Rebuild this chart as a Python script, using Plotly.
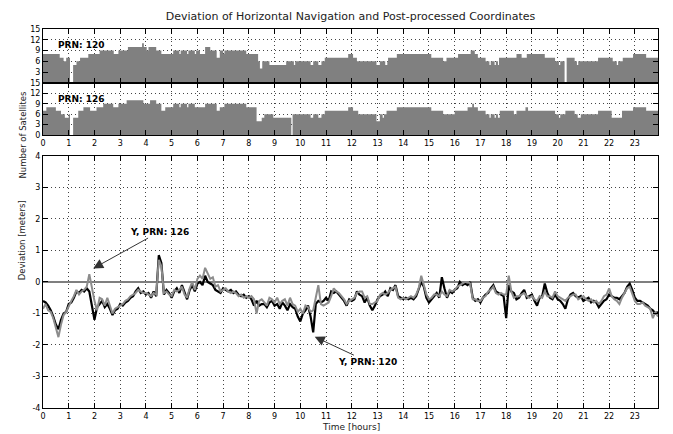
import plotly.graph_objects as go

# number of satellites, step series (start hour, count)
sat_hours_120 = [0.0, 0.65, 0.8, 0.9, 1.05, 1.17, 1.3, 1.44, 1.76, 2.2, 2.75, 2.93, 3.3, 3.85, 3.92,
                 4.03, 4.1, 4.4, 4.6, 5.06, 5.3, 5.35, 5.6, 5.65, 5.9, 5.95, 6.1, 6.3, 6.5, 6.75,
                 6.87, 7.0, 7.05, 7.9, 8.36, 8.43, 8.52, 8.8, 9.45, 9.75, 9.8, 10.4, 10.5, 10.7,
                 10.82, 10.95, 11.86, 12.05, 12.2, 12.96, 13.09, 13.3, 13.38, 13.41, 13.75, 15.09,
                 15.55, 15.68, 16.13, 16.62, 16.78, 16.9, 17.2, 17.35, 17.4, 17.55, 17.6, 17.68,
                 17.72, 18.4, 18.6, 18.8, 19.5, 19.9, 20.05, 20.1, 20.27, 20.35, 20.66, 20.75,
                 20.8, 21.57, 22.14, 22.3, 22.35, 22.53, 22.93, 23.44, 23.9]
sat_count_120 = [8, 7, 6, 7, 0, 5, 6, 7, 8, 9, 8, 9, 10, 11, 10,
                 9, 10, 9, 8, 9, 8, 9, 8, 9, 8, 9, 8, 10, 9, 7,
                 9, 8, 9, 8, 6, 4, 6, 5, 6, 5, 6, 5, 6, 5,
                 6, 7, 8, 7, 6, 5, 6, 5, 6, 7, 8, 7,
                 6, 7, 8, 9, 8, 7, 6, 5, 6, 5, 6, 5,
                 7, 8, 7, 8, 7, 6, 5, 6, 0, 7, 6, 5,
                 6, 7, 6, 5, 6, 7, 8, 7, 7]

sat_hours_126 = [0.0, 0.13, 0.5, 0.7, 0.85, 1.0, 1.05, 1.17, 1.37, 1.57, 1.83, 2.08, 2.34, 2.73,
                 2.93, 3.25, 3.9, 4.16, 4.4, 4.6, 4.75, 5.06, 5.3, 5.35, 5.6, 5.65, 5.9, 6.3,
                 6.75, 6.87, 7.05, 7.9, 8.3, 8.5, 8.6, 8.95, 9.65, 9.7, 10.4, 10.5, 10.7, 10.82,
                 10.95, 11.86, 12.05, 12.25, 12.96, 13.09, 13.2, 13.25, 13.35, 13.75, 15.09,
                 15.55, 16.0, 16.5, 16.68, 16.75, 16.9, 17.2, 17.35, 17.4, 17.55, 17.6, 17.68,
                 17.75, 18.3, 18.4, 18.75, 18.85, 19.9, 20.05, 20.1, 20.3, 20.66, 20.78, 20.9,
                 21.57, 22.1, 22.5, 22.93, 23.44, 23.9]
sat_count_126 = [7, 8, 7, 6, 5, 6, 0, 5, 7, 8, 7, 8, 9, 8,
                 9, 10, 9, 10, 9, 7, 8, 9, 8, 9, 8, 9, 8, 9,
                 7, 8, 9, 8, 4, 5, 6, 5, 0, 6, 5, 6, 5, 6,
                 7, 8, 7, 6, 4, 6, 5, 6, 7, 8, 7,
                 6, 7, 8, 9, 8, 7, 6, 5, 6, 5, 6, 5,
                 7, 6, 7, 8, 7, 6, 5, 6, 7, 6, 5, 6,
                 7, 5, 7, 8, 7, 7]

# deviation [m], one value every 0.1 h from 0 to 23.9
dev_hours = [round(i * 0.1, 1) for i in range(240)]
dev_120 = [-0.60, -0.65, -0.75, -0.90, -1.10, -1.35, -1.50, -1.20, -1.00, -0.95,
           -0.70, -0.65, -0.50, -0.30, -0.35, -0.25, -0.30, -0.20, -0.30, -0.70,
           -1.20, -0.80, -0.70, -0.60, -0.80, -0.70, -0.85, -1.05, -0.90, -0.85,
           -0.70, -0.75, -0.65, -0.60, -0.50, -0.45, -0.30, -0.20, -0.35, -0.30,
           -0.40, -0.35, -0.50, -0.30, -0.45, 0.85, 0.60, -0.40, -0.25, -0.35,
           -0.50, -0.30, -0.20, -0.35, -0.10, -0.35, -0.55, -0.25, -0.10, -0.30,
           -0.05, 0.00, -0.10, 0.20, 0.00, -0.05, -0.10, -0.25, -0.30, -0.35,
           -0.20, -0.25, -0.30, -0.25, -0.35, -0.30, -0.40, -0.45, -0.40, -0.50,
           -0.45, -0.55, -0.75, -0.60, -0.75, -0.70, -0.70, -0.80, -0.65, -0.60,
           -0.75, -0.70, -0.85, -0.65, -0.75, -0.90, -0.70, -0.80, -0.85, -1.10,
           -1.25, -1.00, -0.90, -0.75, -1.10, -1.60, -0.70, -0.60, -0.65, -0.60,
           -0.50, -0.60, -0.30, -0.35, -0.30, -0.40, -0.50, -0.60, -0.75, -0.55,
           -0.60, -0.55, -0.30, -0.40, -0.45, -0.65, -0.50, -0.75, -0.90, -0.75,
           -0.55, -0.45, -0.40, -0.30, -0.45, -0.20, -0.25, -0.10, -0.45, -0.50,
           -0.55, -0.50, -0.55, -0.50, -0.55, -0.45, -0.25, 0.00, -0.15, -0.50,
           -0.65, -0.55, -0.45, -0.35, -0.50, 0.15, -0.20, -0.50, -0.30, -0.35,
           -0.25, -0.20, 0.00, -0.10, -0.05, -0.10, 0.00, -0.50, -0.60, -0.55,
           -0.65, -0.50, -0.40, -0.35, -0.20, -0.10, -0.30, -0.35, -0.40, -0.45,
           -1.15, -0.10, -0.30, -0.35, -0.55, -0.50, -0.35, -0.25, -0.50, -0.45,
           -0.40, -0.60, -0.75, -0.50, -0.45, -0.05, -0.35, -0.50, -0.55, -0.40,
           -0.55, -0.60, -0.70, -0.85, -0.55, -0.40, -0.35, -0.45, -0.50, -0.45,
           -0.60, -0.55, -0.50, -0.65, -0.60, -0.65, -0.80, -0.70, -0.60, -0.55,
           -0.40, -0.45, -0.50, -0.50, -0.55, -0.45, -0.35, -0.15, -0.05, -0.25,
           -0.50, -0.60, -0.60, -0.65, -0.70, -0.75, -0.85, -0.90, -1.00, -0.95]
dev_126 = [-0.85, -0.70, -0.90, -0.95, -1.15, -1.45, -1.75, -1.35, -1.05, -0.95,
           -0.75, -0.60, -0.45, -0.25, -0.40, -0.30, -0.25, -0.15, 0.25, -0.20,
           -0.60, -0.90, -0.50, -0.55, -0.75, -0.50, -0.75, -1.00, -0.85, -0.80,
           -0.75, -0.70, -0.60, -0.55, -0.45, -0.40, -0.35, -0.25, -0.30, -0.35,
           -0.35, -0.40, -0.45, -0.35, -0.40, 0.70, 0.50, -0.35, -0.30, -0.40,
           -0.45, -0.25, -0.30, -0.25, -0.15, -0.40, -0.50, -0.20, 0.00, -0.25,
           0.10, 0.20, 0.10, 0.45, 0.25, 0.10, 0.15, -0.15, -0.10, -0.30,
           -0.25, -0.20, -0.30, -0.35, -0.30, -0.35, -0.45, -0.40, -0.50, -0.45,
           -0.50, -0.45, -0.55, -1.00, -0.60, -0.55, -0.65, -0.75, -0.50, -0.55,
           -0.65, -0.50, -0.70, -0.60, -0.55, -0.75, -0.50, -0.70, -0.75, -0.95,
           -0.85, -1.00, -0.75, -0.80, -0.95, -0.90, -0.50, -0.10, -0.70, -0.75,
           -0.70, -0.65, -0.45, -0.20, -0.30, -0.35, -0.45, -0.55, -0.70, -0.60,
           -0.55, -0.50, -0.35, -0.30, -0.30, -0.50, -0.45, -0.70, -0.70, -0.65,
           -0.60, -0.40, -0.35, -0.40, -0.35, -0.25, -0.20, -0.15, -0.50, -0.55,
           -0.50, -0.55, -0.50, -0.45, -0.50, -0.40, -0.20, 0.20, -0.10, -0.40,
           -0.55, -0.50, -0.40, -0.40, -0.45, -0.30, -0.40, -0.45, -0.25, -0.30,
           -0.25, -0.15, -0.10, -0.05, 0.00, 0.00, -0.05, -0.55, -0.55, -0.60,
           -0.60, -0.50, -0.45, -0.30, -0.25, -0.15, -0.35, -0.40, -0.35, -0.40,
           -0.40, 0.20, -0.30, -0.50, -0.45, -0.45, -0.40, -0.35, -0.45, -0.50,
           -0.45, -0.55, -0.60, -0.45, -0.50, -0.30, -0.45, -0.45, -0.50, -0.30,
           -0.45, -0.50, -0.55, -0.60, -0.50, -0.45, -0.40, -0.40, -0.55, -0.50,
           -0.45, -0.55, -0.60, -0.55, -0.65, -0.60, -0.70, -0.60, -0.45, -0.40,
           -0.20, -0.45, -0.55, -0.60, -0.70, -0.50, -0.35, -0.20, -0.15, -0.35,
           -0.60, -0.70, -0.70, -0.65, -0.75, -0.80, -0.85, -1.15, -0.95, -1.10]

hour_ticks = list(range(24))
sat_ticks = [0, 3, 6, 9, 12, 15]
dev_ticks = [-4, -3, -2, -1, 0, 1, 2, 3, 4]

FONT = "DejaVu Sans"
BAR_GRAY = "#808080"

fig = go.Figure()
fig.add_scatter(x=sat_hours_120, y=sat_count_120, mode="lines", line=dict(shape="hv", width=0, color=BAR_GRAY),
                fill="tozeroy", fillcolor=BAR_GRAY, xaxis="x", yaxis="y", showlegend=False)
fig.add_scatter(x=sat_hours_126, y=sat_count_126, mode="lines", line=dict(shape="hv", width=0, color=BAR_GRAY),
                fill="tozeroy", fillcolor=BAR_GRAY, xaxis="x2", yaxis="y2", showlegend=False)
fig.add_scatter(x=dev_hours, y=dev_120, mode="lines", line=dict(color="#000000", width=2.2),
                xaxis="x3", yaxis="y3", showlegend=False)
fig.add_scatter(x=dev_hours, y=dev_126, mode="lines", line=dict(color="#8c8c8c", width=2),
                xaxis="x3", yaxis="y3", showlegend=False)

axis_style = dict(showline=True, linecolor="black", linewidth=1, mirror="ticks", ticks="inside",
                  ticklen=5, tickcolor="black", showgrid=True, gridcolor="#444444", griddash="1px,3px",
                  gridwidth=1, zeroline=False, tickfont=dict(size=8, color="black"))

# the page body adds an 8px offset, so margins are shifted to keep the plot area in place
fig.update_layout(
    width=673, height=434,
    margin=dict(l=35, r=23, t=21, b=34),
    paper_bgcolor="white", plot_bgcolor="white",
    font=dict(family=FONT, color="black"),
    title=dict(text="Deviation of Horizontal Navigation and Post-processed Coordinates",
               x=0.5, xref="paper", xanchor="center", y=1 - 8 / 434, yanchor="middle",
               font=dict(size=11, color="#222222")),
    xaxis=dict(domain=[0, 1], range=[0, 23.9], tickvals=hour_ticks, showticklabels=False,
               anchor="y", **axis_style),
    yaxis=dict(domain=[0.858, 1.0], range=[0, 15], tickvals=sat_ticks[1:], anchor="x", **axis_style),
    xaxis2=dict(domain=[0, 1], range=[0, 23.9], tickvals=hour_ticks, anchor="y2", **axis_style),
    yaxis2=dict(domain=[0.72, 0.858], range=[0, 15], tickvals=sat_ticks, anchor="x2", **axis_style),
    xaxis3=dict(domain=[0, 1], range=[0, 23.9], tickvals=hour_ticks, anchor="y3", **axis_style),
    yaxis3=dict(domain=[0, 0.665], range=[-4, 4], tickvals=dev_ticks,
                ticktext=[str(v) for v in dev_ticks], anchor="x3", **axis_style),
)
fig.update_layout(yaxis3_zeroline=True, yaxis3_zerolinecolor="#7f7f7f", yaxis3_zerolinewidth=1.5)

fig.add_annotation(text="<b>PRN: 120</b>", x=1.5, y=10.6, xref="x", yref="y", showarrow=False,
                   font=dict(size=9))
fig.add_annotation(text="<b>PRN: 126</b>", x=1.5, y=10.3, xref="x2", yref="y2", showarrow=False,
                   font=dict(size=9))
fig.add_annotation(text="<b>Y, PRN: 126</b>", x=1.95, y=0.43, xref="x3", yref="y3",
                   ax=4.54, ay=1.6, axref="x3", ayref="y3", showarrow=True, arrowhead=2,
                   arrowsize=2, arrowwidth=1, arrowcolor="#333333", font=dict(size=9))
fig.add_annotation(text="<b>Y, PRN: 120</b>", x=10.56, y=-1.74, xref="x3", yref="y3",
                   ax=12.62, ay=-2.53, axref="x3", ayref="y3", showarrow=True, arrowhead=2,
                   arrowsize=2, arrowwidth=1, arrowcolor="#333333", font=dict(size=9))

fig.add_annotation(text="Number of Satellites", x=-0.0455, y=0.843, xref="paper", yref="paper",
                   textangle=-90, showarrow=False, font=dict(size=8.5, color="#222222"))
fig.add_annotation(text="Deviation [meters]", x=-0.0455, y=0.332, xref="paper", yref="paper",
                   textangle=-90, showarrow=False, font=dict(size=8.5, color="#222222"))
fig.add_annotation(text="Time [hours]", x=0.5, y=-0.05, xref="paper", yref="paper",
                   yanchor="middle", showarrow=False, font=dict(size=9, color="#222222"))

fig.write_html("out.html")
